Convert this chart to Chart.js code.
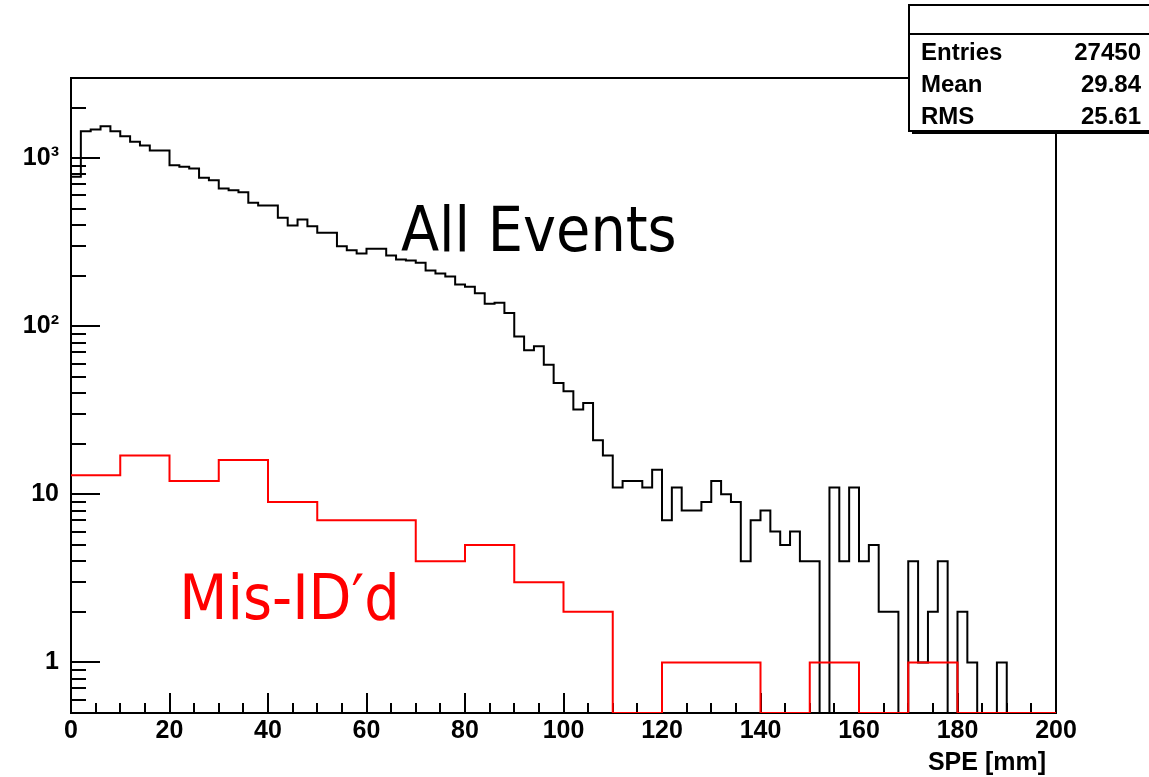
<!DOCTYPE html>
<html>
<head>
<meta charset="utf-8">
<script src="https://cdn.jsdelivr.net/npm/chart.js@4.4.1/dist/chart.umd.min.js"></script>
<style>
  html, body { margin: 0; padding: 0; background: #ffffff; overflow: hidden; }
  canvas { display: block; }
</style>
</head>
<body>
<canvas id="chart" width="1149" height="777"></canvas>
<script>
// ---------------- data ----------------
const allEventsBinWidth = 2;   // mm
const allEvents = [
  775, 1448, 1482, 1549, 1448, 1352, 1252, 1191, 1112, 1112,
  908, 889, 869, 764, 739, 660, 645, 628, 543, 523,
  523, 442, 397, 432, 394, 360, 360, 299, 283, 271,
  289, 289, 264, 250, 246, 239, 215, 206, 198, 177,
  172, 157, 136, 138, 120, 87, 72, 76, 59, 46,
  41, 32, 35, 21, 17, 11, 12, 12, 11, 14,
  7, 11, 8, 8, 9, 12, 10, 9, 4, 7,
  8, 6, 5, 6, 4, 4, 0, 11, 4, 11,
  4, 5, 2, 2, 0, 4, 1, 2, 4, 0,
  2, 1, 0, 0, 1, 0, 0, 0, 0, 0
];
const misIdBinWidth = 10;      // mm
const misIdentified = [13, 17, 12, 16, 9, 7, 7, 4, 5, 3, 2, 0, 1, 1, 0, 1, 0, 1, 0, 0];

const xTickValues = [0, 20, 40, 60, 80, 100, 120, 140, 160, 180, 200];
const xTickLabels = ['0', '20', '40', '60', '80', '100', '120', '140', '160', '180', '200'];
const yTickValues = [1, 10, 100, 1000];
const yTickLabels = ['1', '10', '10\u00B2', '10\u00B3'];
const xTitle = 'SPE [mm]';

const statsLabels = ['Entries', 'Mean', 'RMS'];
const statsValues = ['27450', '29.84', '25.61'];

const annotationTexts = ['All Events', 'Mis-ID\u2032d'];
const annotationX = [67, 22];      // mm (left edge of text)
const annotationY = [282, 1.82];   // counts (text baseline)
const annotationColors = ['#000000', '#ff0000'];

const X_MIN = 0, X_MAX = 200, Y_MIN = 0.5, Y_MAX = 3000;

// ---------------- helpers ----------------
function stepPoints(values, width) {
  const pts = values.map((v, i) => ({ x: X_MIN + i * width, y: v > 0 ? v : Y_MIN }));
  const last = values[values.length - 1];
  pts.push({ x: X_MIN + values.length * width, y: last > 0 ? last : Y_MIN });
  return pts;
}

const AXIS_FONT = { family: "'Liberation Sans', Arial, Helvetica, sans-serif", size: 25, weight: 'bold' };

const framePlugin = {
  id: 'rootFrame',
  beforeDatasetsDraw(chart) {
    const { ctx, chartArea, scales } = chart;
    const { left, right, top, bottom } = chartArea;
    ctx.save();
    ctx.strokeStyle = '#000';
    ctx.lineWidth = 2;
    ctx.strokeRect(left, top, right - left, bottom - top);
    ctx.beginPath();
    // y ticks (log): majors at decades, minors 2..9
    for (let e = -1; e <= 4; e++) {
      for (let m = 1; m <= 9; m++) {
        const v = m * Math.pow(10, e);
        if (v < Y_MIN || v > Y_MAX) continue;
        const py = Math.round(scales.y.getPixelForValue(v));
        const len = m === 1 ? 29 : 15;
        ctx.moveTo(left, py);
        ctx.lineTo(left + len, py);
      }
    }
    // x ticks: majors every 20, minors every 5
    for (let v = X_MIN; v <= X_MAX; v += 5) {
      const px = Math.round(scales.x.getPixelForValue(v));
      const len = v % 20 === 0 ? 20 : 10;
      ctx.moveTo(px, bottom);
      ctx.lineTo(px, bottom - len);
    }
    ctx.stroke();
    ctx.restore();
  }
};

const overlayPlugin = {
  id: 'rootOverlay',
  afterDraw(chart) {
    const { ctx, scales, chartArea } = chart;
    ctx.save();
    // x-axis title, right aligned slightly inside the frame edge
    ctx.fillStyle = '#000';
    ctx.font = "bold 25px 'Liberation Sans', Arial, sans-serif";
    ctx.textAlign = 'right';
    ctx.textBaseline = 'alphabetic';
    ctx.fillText(xTitle, chartArea.right - 10, 770);

    // annotation texts
    ctx.font = "62px 'DejaVu Sans Condensed', 'DejaVu Sans', sans-serif";
    ctx.textAlign = 'left';
    annotationTexts.forEach((t, i) => {
      ctx.fillStyle = annotationColors[i];
      ctx.fillText(t, scales.x.getPixelForValue(annotationX[i]), scales.y.getPixelForValue(annotationY[i]));
    });

    // statistics box
    const bx = 909, by = 5, bw = 250, bh = 126;
    ctx.fillStyle = '#000';
    ctx.fillRect(bx + 3, by + bh, bw, 3);
    ctx.fillStyle = '#fff';
    ctx.fillRect(bx, by, bw, bh);
    ctx.strokeStyle = '#000';
    ctx.lineWidth = 2;
    ctx.strokeRect(bx, by, bw, bh);
    ctx.beginPath();
    ctx.moveTo(bx, 34);
    ctx.lineTo(bx + bw, 34);
    ctx.stroke();
    ctx.fillStyle = '#000';
    ctx.font = "bold 24px 'Liberation Sans', Arial, sans-serif";
    const baselines = [60, 92, 124];
    statsLabels.forEach((l, i) => {
      ctx.textAlign = 'left';
      ctx.fillText(l, 921, baselines[i]);
      ctx.textAlign = 'right';
      ctx.fillText(statsValues[i], 1141, baselines[i]);
    });
    ctx.restore();
  }
};

new Chart(document.getElementById('chart').getContext('2d'), {
  type: 'line',
  data: {
    datasets: [
      {
        label: annotationTexts[1],
        data: stepPoints(misIdentified, misIdBinWidth),
        borderColor: '#ff0000',
        borderWidth: 2,
        stepped: 'before',
        pointRadius: 0,
        fill: false,
        order: 0
      },
      {
        label: annotationTexts[0],
        data: stepPoints(allEvents, allEventsBinWidth),
        borderColor: '#000000',
        borderWidth: 2,
        stepped: 'before',
        pointRadius: 0,
        fill: false,
        order: 1
      }
    ]
  },
  options: {
    responsive: false,
    animation: false,
    devicePixelRatio: 1,
    layout: { padding: { top: 78, right: 93, left: 0, bottom: 0 } },
    plugins: { legend: { display: false }, tooltip: { enabled: false } },
    scales: {
      x: {
        type: 'linear',
        position: 'bottom',
        min: X_MIN,
        max: X_MAX,
        afterBuildTicks: s => { s.ticks = xTickValues.map(v => ({ value: v })); },
        afterFit: s => { s.height = 64; },
        grid: { display: false, drawTicks: false },
        border: { display: false },
        ticks: {
          autoSkip: false, maxRotation: 0, minRotation: 0, padding: 3, color: '#000',
          font: AXIS_FONT,
          callback: (v, i) => xTickLabels[i]
        }
      },
      y: {
        type: 'logarithmic',
        position: 'left',
        min: Y_MIN,
        max: Y_MAX,
        afterBuildTicks: s => { s.ticks = yTickValues.map(v => ({ value: v })); },
        afterFit: s => { s.width = 71; },
        grid: { display: false, drawTicks: false },
        border: { display: false },
        ticks: {
          autoSkip: false, padding: 12, color: '#000',
          font: AXIS_FONT,
          callback: (v, i) => yTickLabels[i]
        }
      }
    }
  },
  plugins: [framePlugin, overlayPlugin]
});
</script>
</body>
</html>
